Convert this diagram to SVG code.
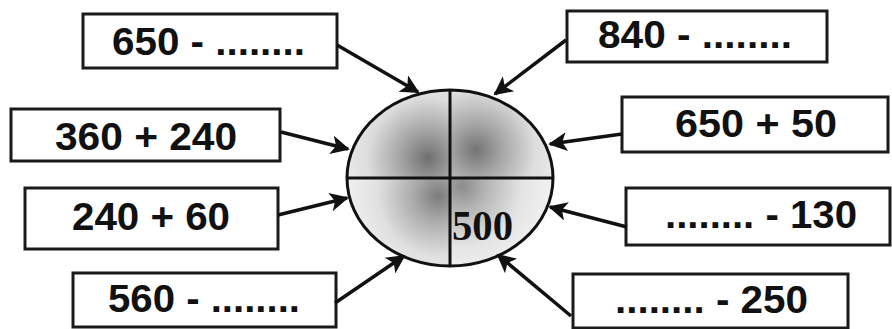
<svg xmlns="http://www.w3.org/2000/svg" width="892" height="329" viewBox="0 0 892 329">
<style>
.box{fill:#fff;stroke:#1a1a1a;stroke-width:3}
.t{font-family:"Liberation Sans",Arial,sans-serif;font-weight:bold;font-size:38px;fill:#111}
.c{stroke:#111;stroke-width:3;fill:none}
.ar{stroke:#111;stroke-width:3.5;fill:none;marker-end:url(#ah)}
</style>
<defs>
<marker id="ah" viewBox="0 0 10 10" refX="9" refY="5" markerWidth="6" markerHeight="5.4" orient="auto" markerUnits="strokeWidth">
<path d="M0,0 L10,5 L0,10 L2.5,5 Z" fill="#111"/>
</marker>
<radialGradient id="gUL" gradientUnits="userSpaceOnUse" cx="428" cy="158" r="100">
<stop offset="0" stop-color="#707070"/><stop offset="0.25" stop-color="#a0a0a0"/><stop offset="0.6" stop-color="#dcdcdc"/><stop offset="1" stop-color="#f4f4f4"/>
</radialGradient>
<radialGradient id="gUR" gradientUnits="userSpaceOnUse" cx="476" cy="150" r="100">
<stop offset="0" stop-color="#747474"/><stop offset="0.25" stop-color="#a4a4a4"/><stop offset="0.6" stop-color="#dedede"/><stop offset="1" stop-color="#f4f4f4"/>
</radialGradient>
<radialGradient id="gLL" gradientUnits="userSpaceOnUse" cx="438" cy="196" r="100">
<stop offset="0" stop-color="#7c7c7c"/><stop offset="0.25" stop-color="#ababab"/><stop offset="0.6" stop-color="#e0e0e0"/><stop offset="1" stop-color="#f5f5f5"/>
</radialGradient>
<radialGradient id="gLR" gradientUnits="userSpaceOnUse" cx="462" cy="186" r="100">
<stop offset="0" stop-color="#8c8c8c"/><stop offset="0.25" stop-color="#b6b6b6"/><stop offset="0.6" stop-color="#e4e4e4"/><stop offset="1" stop-color="#f6f6f6"/>
</radialGradient>
<clipPath id="ec"><ellipse cx="450" cy="178" rx="103" ry="88"/></clipPath>
</defs>
<rect width="892" height="329" fill="#fff"/>
<g id="center">
<g clip-path="url(#ec)">
<rect x="347" y="90" width="103" height="88" fill="url(#gUL)"/>
<rect x="450" y="90" width="103" height="88" fill="url(#gUR)"/>
<rect x="347" y="178" width="103" height="88" fill="url(#gLL)"/>
<rect x="450" y="178" width="103" height="88" fill="url(#gLR)"/>
</g>
<line class="c" x1="450" y1="90" x2="450" y2="266"/>
<line class="c" x1="347" y1="178" x2="553" y2="178"/>
<ellipse class="c" cx="450" cy="178" rx="103" ry="88"/>
<text x="452" y="240" font-family="Liberation Serif,'Times New Roman',serif" font-weight="bold" font-size="42" textLength="61" lengthAdjust="spacingAndGlyphs" fill="#111">500</text>
</g>
<g id="n1"><rect class="box" x="83" y="14" width="254" height="54"/><text class="t" x="112" y="55" textLength="193" lengthAdjust="spacingAndGlyphs">650 - ........</text></g>
<g id="n2"><rect class="box" x="567" y="11" width="260" height="51"/><text class="t" x="598" y="48" textLength="194" lengthAdjust="spacingAndGlyphs">840 - ........</text></g>
<g id="n3"><rect class="box" x="11" y="109" width="269" height="52"/><text class="t" x="55" y="150" textLength="182" lengthAdjust="spacingAndGlyphs">360 + 240</text></g>
<g id="n4"><rect class="box" x="25" y="188" width="253" height="61"/><text class="t" x="72" y="230" textLength="158" lengthAdjust="spacingAndGlyphs">240 + 60</text></g>
<g id="n5"><rect class="box" x="73" y="273" width="263" height="54"/><text class="t" x="108" y="312" textLength="192" lengthAdjust="spacingAndGlyphs">560 - ........</text></g>
<g id="n6"><rect class="box" x="622" y="97" width="266" height="55"/><text class="t" x="675" y="137" textLength="162" lengthAdjust="spacingAndGlyphs">650 + 50</text></g>
<g id="n7"><rect class="box" x="626" y="188" width="264" height="57"/><text class="t" x="665" y="228" textLength="192" lengthAdjust="spacingAndGlyphs">........ - 130</text></g>
<g id="n8"><rect class="box" x="573" y="274" width="275" height="54"/><text class="t" x="615" y="313" textLength="193" lengthAdjust="spacingAndGlyphs">........ - 250</text></g>
<g id="connectors">
<line class="ar" x1="337" y1="45" x2="418" y2="92"/>
<line class="ar" x1="566" y1="40" x2="495" y2="94"/>
<line class="ar" x1="281" y1="132" x2="348" y2="149"/>
<line class="ar" x1="278" y1="215" x2="347" y2="198"/>
<line class="ar" x1="335" y1="303" x2="404" y2="256"/>
<line class="ar" x1="622" y1="134" x2="550" y2="144"/>
<line class="ar" x1="627" y1="227" x2="550" y2="207"/>
<line class="ar" x1="571" y1="316" x2="498" y2="255"/>
</g>
</svg>
